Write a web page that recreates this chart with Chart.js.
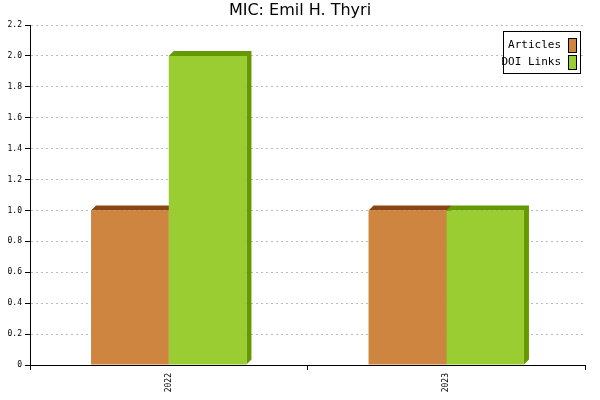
<!DOCTYPE html>
<html>
<head>
<script src="https://cdn.jsdelivr.net/npm/chart.js@4"></script>
<style>body{margin:0;background:#fff}</style>
</head>
<body>
<canvas id="c" width="600" height="400"></canvas>
<script>
const years = ['2022', '2023'];
const articles = [1, 1];
const doiLinks = [2, 1];
const yTicks = [0, 0.2, 0.4, 0.6, 0.8, 1, 1.2, 1.4, 1.6, 1.8, 2, 2.2];

const faceColors = ['#cd853f', '#9acd32'];
const darkColors = ['#8b4513', '#669900'];
const depth = 5;

// fake 3D: top and right side on every bar
const bar3d = {
  id: 'bar3d',
  beforeDatasetsDraw(chart) {
    const ctx = chart.ctx;
    chart.data.datasets.forEach((ds, i) => {
      chart.getDatasetMeta(i).data.forEach(b => {
        const l = b.x - b.width / 2, r = b.x + b.width / 2, t = b.y, bot = b.base;
        ctx.fillStyle = darkColors[i];
        ctx.beginPath();
        ctx.moveTo(l, t); ctx.lineTo(l + depth, t - depth); ctx.lineTo(r + depth, t - depth);
        ctx.lineTo(r + depth, bot - depth); ctx.lineTo(r, bot); ctx.lineTo(r, t);
        ctx.closePath(); ctx.fill();
      });
    });
  },
  afterDraw(chart) {
    const ctx = chart.ctx;
    ctx.save();
    ctx.fillStyle = '#000';
    ctx.font = '16px "DejaVu Sans"';
    ctx.textAlign = 'center';
    ctx.textBaseline = 'middle';
    ctx.fillText('MIC: Emil H. Thyri', 300, 11);
    // legend box
    const x = 503, y = 31, w = 77, h = 42;
    ctx.fillStyle = '#fff';
    ctx.fillRect(x, y, w, h);
    ctx.strokeStyle = '#000';
    ctx.lineWidth = 1;
    ctx.strokeRect(x + 0.5, y + 0.5, w, h);
    ctx.font = '11px "DejaVu Sans Mono"';
    ctx.textAlign = 'right';
    ['Articles', 'DOI Links'].forEach((lab, i) => {
      const yy = y + 14 + i * 17;
      ctx.fillStyle = '#000';
      ctx.fillText(lab, x + 58, yy);
      ctx.fillStyle = faceColors[i];
      ctx.fillRect(x + 65, yy - 7, 8, 14);
      ctx.strokeRect(x + 65.5, yy - 6.5, 8, 14);
    });
    ctx.restore();
  }
};

new Chart(document.getElementById('c'), {
  type: 'bar',
  data: {
    labels: years,
    datasets: [
      { label: 'Articles', data: articles, backgroundColor: faceColors[0] },
      { label: 'DOI Links', data: doiLinks, backgroundColor: faceColors[1] }
    ]
  },
  options: {
    responsive: false,
    animation: false,
    layout: { padding: { top: 25, right: 15, left: 0, bottom: 0 } },
    plugins: { legend: { display: false }, title: { display: false }, tooltip: { enabled: false } },
    datasets: { bar: { categoryPercentage: 0.56, barPercentage: 1 } },
    scales: {
      x: {
        grid: { drawOnChartArea: false, color: '#000', tickLength: 5 },
        border: { color: '#000' },
        ticks: { minRotation: 90, maxRotation: 90, color: '#000', font: { family: 'DejaVu Sans Mono', size: 8 } },
        afterFit(s) { s.height = 35; }
      },
      y: {
        min: 0, max: 2.2,
        afterBuildTicks(s) { s.ticks = yTicks.map(v => ({ value: v })); },
        grid: { color: '#bbb', tickColor: '#000', tickLength: 5, tickBorderDash: [0] },
        border: { color: '#000', dash: [2, 3] },
        ticks: { color: '#000', padding: 3, font: { family: 'DejaVu Sans Mono', size: 8 } },
        afterFit(s) { s.width = 30; }
      }
    }
  },
  plugins: [bar3d]
});
</script>
</body>
</html>
